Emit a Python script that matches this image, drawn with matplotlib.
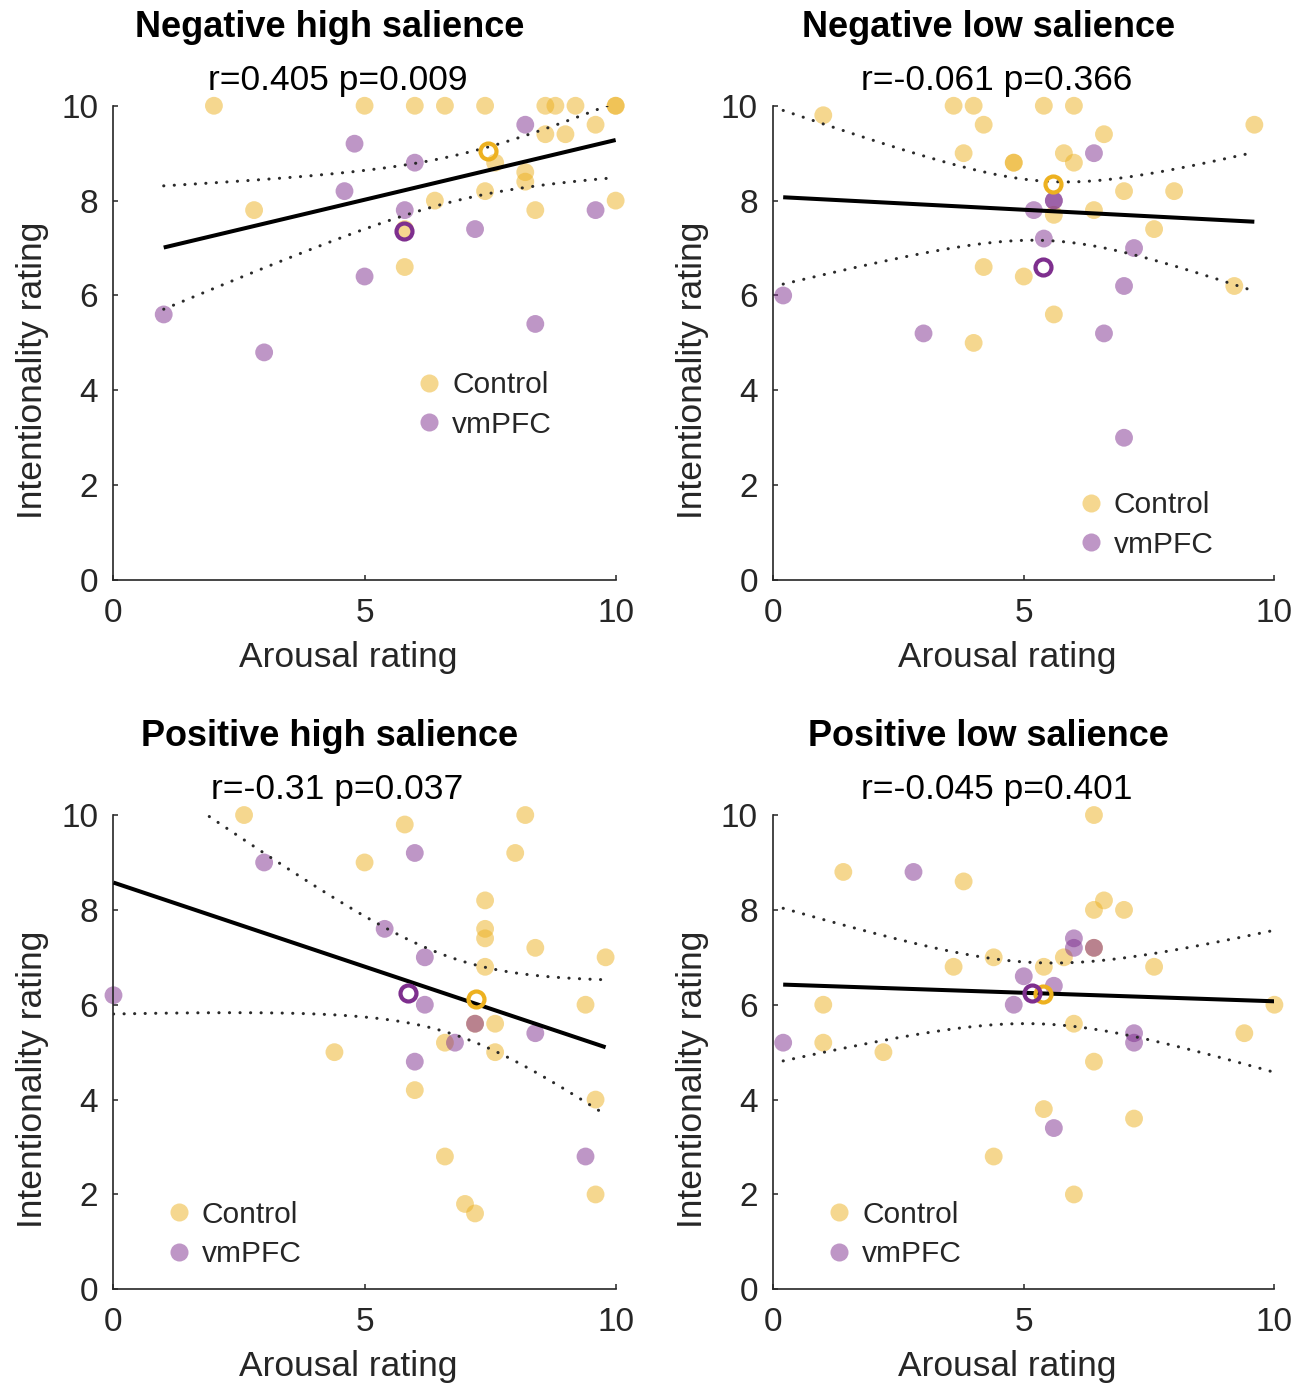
import numpy as np
import matplotlib
matplotlib.use("Agg")
import matplotlib.pyplot as plt
from matplotlib.lines import Line2D

plt.rcParams['font.family'] = ['Liberation Sans', 'DejaVu Sans']

# ---------------- data ----------------
titles = ["Negative high salience", "Negative low salience",
          "Positive high salience", "Positive low salience"]
stats_text = ["r=0.405 p=0.009", "r=-0.061 p=0.366",
              "r=-0.31 p=0.037", "r=-0.045 p=0.401"]
group_names = ["Control", "vmPFC"]

neg_high_ctrl_x = [2.0, 5.0, 6.0, 6.6, 7.4, 8.6, 8.8, 9.2, 10.0, 10.0, 9.6, 8.6,
                   9.0, 7.6, 8.2, 8.2, 7.4, 6.4, 10.0, 2.8, 8.4, 5.8, 5.8]
neg_high_ctrl_y = [10, 10, 10, 10, 10, 10, 10, 10, 10, 10, 9.6, 9.4,
                   9.4, 8.8, 8.6, 8.4, 8.2, 8.0, 8.0, 7.8, 7.8, 7.4, 6.6]
neg_high_vm_x = [8.2, 4.8, 6.0, 4.6, 5.8, 7.2, 9.6, 5.0, 1.0, 8.4, 3.0]
neg_high_vm_y = [9.6, 9.2, 8.8, 8.2, 7.8, 7.4, 7.8, 6.4, 5.6, 5.4, 4.8]

neg_low_ctrl_x = [1.0, 3.6, 4.0, 5.4, 6.0, 4.2, 6.6, 9.6, 3.8, 4.8, 4.8, 5.8,
                  6.0, 7.0, 8.0, 6.4, 5.6, 7.6, 4.2, 5.0, 9.2, 5.6, 4.0]
neg_low_ctrl_y = [9.8, 10, 10, 10, 10, 9.6, 9.4, 9.6, 9.0, 8.8, 8.8, 9.0,
                  8.8, 8.2, 8.2, 7.8, 7.7, 7.4, 6.6, 6.4, 6.2, 5.6, 5.0]
neg_low_vm_x = [6.4, 5.6, 5.6, 5.2, 5.4, 7.2, 0.2, 7.0, 3.0, 6.6, 7.0]
neg_low_vm_y = [9.0, 8.0, 8.0, 7.8, 7.2, 7.0, 6.0, 6.2, 5.2, 5.2, 3.0]

pos_high_ctrl_x = [2.6, 8.2, 5.8, 5.0, 8.0, 7.4, 7.4, 7.4, 8.4, 9.8, 7.4, 9.4,
                   7.6, 7.2, 6.6, 4.4, 7.6, 6.0, 9.6, 6.6, 7.0, 7.2, 9.6]
pos_high_ctrl_y = [10, 10, 9.8, 9.0, 9.2, 8.2, 7.6, 7.4, 7.2, 7.0, 6.8, 6.0,
                   5.6, 5.6, 5.2, 5.0, 5.0, 4.2, 4.0, 2.8, 1.8, 1.6, 2.0]
pos_high_vm_x = [6.0, 3.0, 5.4, 6.2, 0.0, 6.2, 8.4, 6.8, 6.0, 9.4, 7.2]
pos_high_vm_y = [9.2, 9.0, 7.6, 7.0, 6.2, 6.0, 5.4, 5.2, 4.8, 2.8, 5.6]

pos_low_ctrl_x = [6.4, 1.4, 3.8, 6.6, 6.4, 7.0, 5.8, 4.4, 3.6, 5.4, 7.6, 1.0,
                  10.0, 6.0, 1.0, 2.2, 9.4, 6.4, 5.4, 7.2, 4.4, 6.0, 6.4]
pos_low_ctrl_y = [10, 8.8, 8.6, 8.2, 8.0, 8.0, 7.0, 7.0, 6.8, 6.8, 6.8, 6.0,
                  6.0, 5.6, 5.2, 5.0, 5.4, 4.8, 3.8, 3.6, 2.8, 2.0, 7.2]
pos_low_vm_x = [2.8, 6.0, 6.0, 6.4, 5.0, 5.6, 4.8, 0.2, 7.2, 7.2, 5.6]
pos_low_vm_y = [8.8, 7.4, 7.2, 7.2, 6.6, 6.4, 6.0, 5.2, 5.4, 5.2, 3.4]

panels = [
    (neg_high_ctrl_x, neg_high_ctrl_y, neg_high_vm_x, neg_high_vm_y),
    (neg_low_ctrl_x, neg_low_ctrl_y, neg_low_vm_x, neg_low_vm_y),
    (pos_high_ctrl_x, pos_high_ctrl_y, pos_high_vm_x, pos_high_vm_y),
    (pos_low_ctrl_x, pos_low_ctrl_y, pos_low_vm_x, pos_low_vm_y),
]

x_ticks = [0, 5, 10]
y_ticks = [0, 2, 4, 6, 8, 10]

# ---------------- style ----------------
W, H = 1306, 1388
CTRL = '#EDB120'
VM = '#7E2F8E'
AXC = '#262626'

axes_rects = [
    (0.0869, 0.5821, 0.3845, 0.3417),
    (0.5920, 0.5821, 0.3838, 0.3417),
    (0.0869, 0.0711, 0.3845, 0.3417),
    (0.5920, 0.0711, 0.3838, 0.3417),
]
legend_anchor = [(0.607, 0.440), (0.612, 0.187), (0.109, 0.187), (0.110, 0.187)]


def t975(df):
    z = 1.959964
    g1 = (z ** 3 + z) / 4
    g2 = (5 * z ** 5 + 16 * z ** 3 + 3 * z) / 96
    g3 = (3 * z ** 7 + 19 * z ** 5 + 17 * z ** 3 - 15 * z) / 384
    return z + g1 / df + g2 / df ** 2 + g3 / df ** 3


fig = plt.figure(figsize=(W / 100, H / 100), dpi=100)

for i, (cx, cy, vx, vy) in enumerate(panels):
    ax = fig.add_axes(axes_rects[i])
    cx, cy, vx, vy = map(np.asarray, (cx, cy, vx, vy))

    ax.scatter(cx, cy, s=165, color=CTRL, alpha=0.5, edgecolors='none',
               clip_on=False, zorder=2)
    ax.scatter(vx, vy, s=165, color=VM, alpha=0.5, edgecolors='none',
               clip_on=False, zorder=2)

    # pooled regression with 95% confidence band
    X = np.concatenate([cx, vx])
    Y = np.concatenate([cy, vy])
    n = len(X)
    slope, icpt = np.polyfit(X, Y, 1)
    resid = Y - (icpt + slope * X)
    s = np.sqrt(np.sum(resid ** 2) / (n - 2))
    xbar = X.mean()
    sxx = np.sum((X - xbar) ** 2)
    xs = np.linspace(X.min(), X.max(), 200)
    yf = icpt + slope * xs
    hw = t975(n - 2) * s * np.sqrt(1.0 / n + (xs - xbar) ** 2 / sxx)
    ax.plot(xs, yf, color='black', lw=2.9, zorder=3, solid_capstyle='butt')
    for sign in (1, -1):
        ax.plot(xs, yf + sign * hw, color='#2a2a2a', lw=2.2,
                linestyle=(0, (0.05, 3.4)), dash_capstyle='round', zorder=3)

    # group means
    ax.plot([cx.mean()], [cy.mean()], marker='o', ms=11.5, mfc='none',
            mec=CTRL, mew=3.0, linestyle='none', zorder=4, clip_on=False)
    ax.plot([vx.mean()], [vy.mean()], marker='o', ms=11.5, mfc='none',
            mec=VM, mew=3.0, linestyle='none', zorder=4, clip_on=False)

    ax.set_xlim(0, 10)
    ax.set_ylim(0, 10)
    ax.set_xticks(x_ticks)
    ax.set_yticks(y_ticks)
    for sp in ('top', 'right'):
        ax.spines[sp].set_visible(False)
    for sp in ('left', 'bottom'):
        ax.spines[sp].set_color(AXC)
        ax.spines[sp].set_linewidth(1.2)
    ax.tick_params(direction='in', length=3.5, width=1.1, color=AXC,
                   labelcolor=AXC, labelsize=24)
    ax.tick_params(axis='x', pad=13)
    ax.tick_params(axis='y', pad=11)

    ax.set_xlabel("Arousal rating", fontsize=25.5, color=AXC)
    ax.set_ylabel("Intentionality rating", fontsize=25.5, color=AXC)
    ax.xaxis.set_label_coords(0.468, -0.128)
    ax.yaxis.set_label_coords(-0.128, 0.443)

    ax.text(0.430, 1.146, titles[i], transform=ax.transAxes, ha='center',
            va='baseline', fontsize=26, fontweight='bold', color='black')
    ax.text(0.446, 1.034, stats_text[i], transform=ax.transAxes, ha='center',
            va='baseline', fontsize=25.5, color='black')

    handles = [Line2D([], [], marker='o', linestyle='none', ms=13,
                      mfc=CTRL, mec='none', alpha=0.5),
               Line2D([], [], marker='o', linestyle='none', ms=13,
                      mfc=VM, mec='none', alpha=0.5)]
    ax.legend(handles, group_names, loc='upper left',
              bbox_to_anchor=legend_anchor[i], bbox_transform=ax.transAxes,
              frameon=False, fontsize=21.5, borderpad=0, borderaxespad=0,
              handlelength=0.75, handletextpad=0.38, labelspacing=0.38,
              labelcolor=AXC)

fig.savefig("out.png", dpi=100, facecolor='white')
